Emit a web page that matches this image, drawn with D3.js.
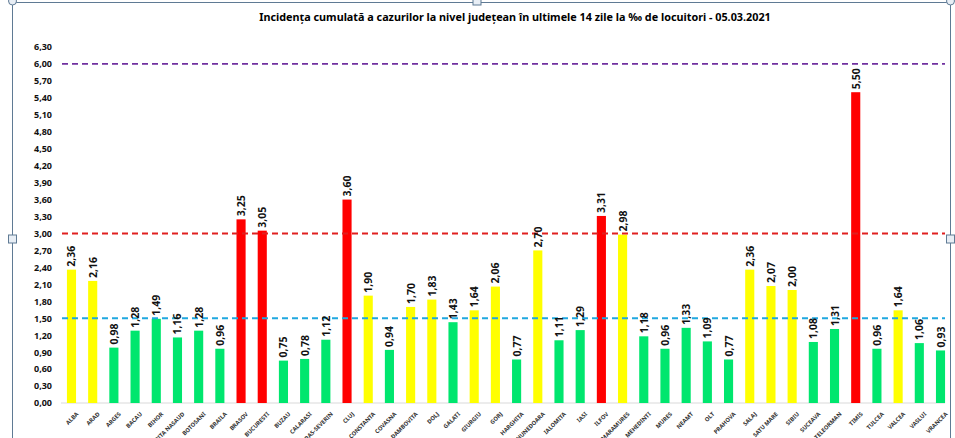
<!DOCTYPE html>
<html>
<head>
<meta charset="utf-8">
<script src="https://cdn.jsdelivr.net/npm/d3@7"></script>
<style>
  body { margin: 0; background: #fff; }
  svg text { font-family: "Liberation Sans Narrow", "Noto Sans", sans-serif; }
</style>
</head>
<body>
<div id="chart"></div>
<script>
const title = "Incidența cumulată a cazurilor la nivel județean în ultimele 14 zile la ‰ de locuitori - 05.03.2021"

const counties = ["ALBA","ARAD","ARGES","BACAU","BIHOR","BISTRITA NASAUD","BOTOSANI","BRAILA","BRASOV","BUCURESTI",
  "BUZAU","CALARASI","CARAS-SEVERIN","CLUJ","CONSTANTA","COVASNA","DAMBOVITA","DOLJ","GALATI","GIURGIU",
  "GORJ","HARGHITA","HUNEDOARA","IALOMITA","IASI","ILFOV","MARAMURES","MEHEDINTI","MURES","NEAMT",
  "OLT","PRAHOVA","SALAJ","SATU MARE","SIBIU","SUCEAVA","TELEORMAN","TIMIS","TULCEA","VALCEA","VASLUI","VRANCEA"]

const incidence = [2.36,2.16,0.98,1.28,1.49,1.16,1.28,0.96,3.25,3.05,
  0.75,0.78,1.12,3.60,1.90,0.94,1.70,1.83,1.43,1.64,
  2.06,0.77,2.70,1.11,1.29,3.31,2.98,1.18,0.96,1.33,
  1.09,0.77,2.36,2.07,2.00,1.08,1.31,5.50,0.96,1.64,1.06,0.93]

const yTicks = d3.range(0, 22).map(i => +(i * 0.3).toFixed(2))

// threshold lines
const thresholds = [
  {value: 6.0, color: "#7030a0"},
  {value: 3.0, color: "#e02020"},
  {value: 1.5, color: "#1fa8e0"}
]

const width = 955, height = 438
const margin = {left: 61, right: 4, top: 47, bottom: 35}

const svg = d3.select("#chart").append("svg")
  .attr("width", width)
  .attr("height", height)

// chart frame (selected Excel chart look)
svg.append("rect")
  .attr("x", 12.5).attr("y", 2.5)
  .attr("width", 938).attr("height", 450)
  .attr("fill", "none")
  .attr("stroke", "#5f7a94")
  .attr("stroke-width", 1)

const x = d3.scaleBand()
  .domain(counties)
  .range([margin.left, width - margin.right])
  .paddingInner(0.57)
  .paddingOuter(0.28)

const y = d3.scaleLinear()
  .domain([0, 6.3])
  .range([height - margin.bottom, margin.top])

const fmt = d => d3.format(".2f")(d).replace(".", ",")

function barColor(v){
  if (v > 3) return "#ff0000"
  if (v >= 1.5) return "#ffff00"
  return "#00e66e"
}

svg.append("text")
  .attr("x", 515).attr("y", 21)
  .attr("text-anchor", "middle")
  .attr("font-size", 10.8)
  .attr("font-weight", "bold")
  .text(title)

// y axis
const yAxis = d3.axisLeft(y)
  .tickValues(yTicks)
  .tickSize(0)
  .tickPadding(8)
  .tickFormat(fmt)

const gy = svg.append("g")
  .attr("transform", `translate(${margin.left - 1},0)`)
  .call(yAxis)
gy.select(".domain").remove()
gy.selectAll("text")
  .attr("font-size", 9)
  .attr("font-weight", "bold")
  .attr("fill", "#111")

// baseline
svg.append("line")
  .attr("x1", margin.left).attr("x2", 945)
  .attr("y1", y(0)).attr("y2", y(0))
  .attr("stroke", "#d9d9d9")

// bars
svg.selectAll(".bar")
  .data(incidence)
  .enter().append("rect")
  .attr("class", "bar")
  .attr("x", (d, i) => x(counties[i]))
  .attr("width", x.bandwidth())
  .attr("y", d => y(d))
  .attr("height", d => y(0) - y(d))
  .attr("fill", d => barColor(d))

// threshold lines
svg.selectAll(".thr")
  .data(thresholds)
  .enter().append("line")
  .attr("x1", margin.left + 1).attr("x2", 945)
  .attr("y1", d => y(d.value)).attr("y2", d => y(d.value))
  .attr("stroke", d => d.color)
  .attr("stroke-width", 1.8)
  .attr("stroke-dasharray", "6,4")

// value labels
svg.selectAll(".val")
  .data(incidence)
  .enter().append("text")
  .attr("transform", (d, i) => `translate(${x(counties[i]) + x.bandwidth() / 2 + 4},${y(d) - 3}) rotate(-90)`)
  .attr("font-size", 10.5)
  .attr("font-weight", "bold")
  .attr("fill", "#111")
  .text(d => fmt(d))

// x axis
const xAxis = d3.axisBottom(x).tickSize(0).tickPadding(6)
const gx = svg.append("g")
  .attr("transform", `translate(0,${y(0)})`)
  .call(xAxis)
gx.select(".domain").remove()
gx.selectAll("text")
  .attr("font-size", 5.8)
  .attr("font-weight", "bold")
  .attr("fill", "#333")
  .attr("text-anchor", "end")
  .attr("dy", "0.3em")
  .attr("transform", "translate(2,6) rotate(-45)")

// selection handles
const handles = [
  {cx: 12.5, cy: 1, kind: "c"}, {cx: 477, cy: 1, kind: "s"}, {cx: 950.5, cy: 1, kind: "c"},
  {cx: 12.5, cy: 239, kind: "s"}, {cx: 950.5, cy: 239, kind: "s"}
]
svg.selectAll(".h")
  .data(handles.filter(d => d.kind === "s"))
  .enter().append("rect")
  .attr("x", d => d.cx - 4).attr("y", d => d.cy - 4)
  .attr("width", 8).attr("height", 8)
  .attr("fill", "#e8eef5").attr("stroke", "#5f7a94")
svg.selectAll(".hc")
  .data(handles.filter(d => d.kind === "c"))
  .enter().append("circle")
  .attr("cx", d => d.cx).attr("cy", d => d.cy).attr("r", 4)
  .attr("fill", "#e8eef5").attr("stroke", "#5f7a94")
</script>
</body>
</html>
